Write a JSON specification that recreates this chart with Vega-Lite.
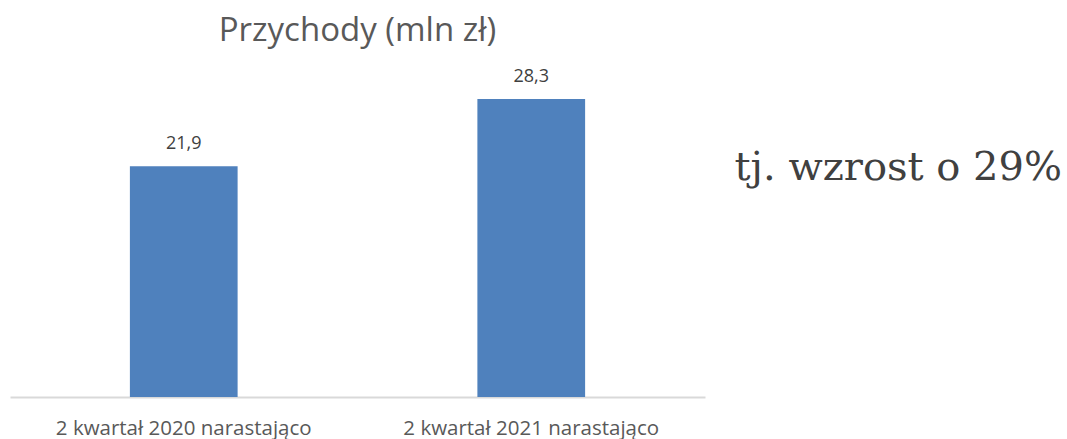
{
  "$schema": "https://vega.github.io/schema/vega-lite/v6.json",
  "background": "white",
  "padding": {"left": 10, "top": 15, "right": 5, "bottom": 0},
  "spacing": 20,
  "config": {
    "view": {"stroke": null},
    "font": "Open Sans",
    "locale": {"number": {"decimal": ",", "thousands": " ", "grouping": [3], "currency": ["", " zł"]}}
  },
  "datasets": {
    "przychody": [
      {"okres": "2 kwartał 2020 narastająco", "wartosc": 21.9},
      {"okres": "2 kwartał 2021 narastająco", "wartosc": 28.3}
    ],
    "uwaga": [
      {"tekst": "tj. wzrost o 29%"}
    ]
  },
  "hconcat": [
    {
      "title": {"text": "Przychody (mln zł)", "fontSize": 33, "fontWeight": "normal", "color": "#595959", "font": "Open Sans", "offset": 12, "anchor": "middle"},
      "width": 695,
      "height": 337,
      "data": {"name": "przychody"},
      "encoding": {
        "x": {
          "field": "okres", "type": "nominal", "sort": null,
          "scale": {"paddingInner": 0.69, "paddingOuter": 0.345},
          "axis": {"title": null, "labelAngle": 0, "ticks": false, "tickSize": 0, "labelPadding": 21, "labelLimit": 0, "labelFontSize": 20.5, "labelColor": "#595959", "labelFont": "Open Sans", "domainColor": "#d9d9d9", "domainWidth": 2, "grid": false}
        },
        "y": {"field": "wartosc", "type": "quantitative", "scale": {"domain": [0, 32]}, "axis": null}
      },
      "layer": [
        {"mark": {"type": "bar", "color": "#4f81bd"}},
        {
          "mark": {"type": "text", "dy": -17, "baseline": "alphabetic", "fontSize": 18, "color": "#404040", "font": "Open Sans"},
          "encoding": {"text": {"field": "wartosc", "type": "quantitative", "format": ".1f"}}
        }
      ]
    },
    {
      "width": 337,
      "height": 337,
      "data": {"name": "uwaga"},
      "mark": {"type": "text", "align": "right", "baseline": "alphabetic", "fontSize": 40, "font": "DejaVu Serif", "color": "#404040"},
      "encoding": {
        "x": {"datum": 1, "type": "quantitative", "scale": {"domain": [0, 1]}, "axis": null},
        "y": {"datum": 20.6, "type": "quantitative", "scale": {"domain": [0, 32]}, "axis": null},
        "text": {"field": "tekst", "type": "nominal"}
      }
    }
  ]
}
